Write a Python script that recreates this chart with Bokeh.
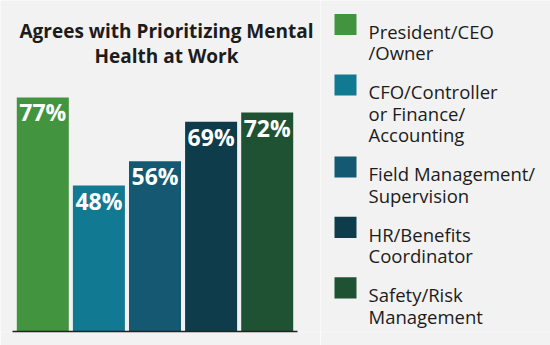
from bokeh.plotting import figure
from bokeh.layouts import row
from bokeh.models import Range1d, ColumnDataSource, FixedTicker
from bokeh.core.properties import value
from bokeh.embed import file_html
from bokeh.resources import INLINE

# ---- data ----
categories = ["President/CEO\n/Owner", "CFO/Controller\nor Finance/\nAccounting",
              "Field Management/\nSupervision", "HR/Benefits\nCoordinator",
              "Safety/Risk\nManagement"]
values = [77, 48, 56, 69, 72]
value_labels = ["77%", "48%", "56%", "69%", "72%"]
colors = ["#43943e", "#117991", "#155871", "#0e3c4b", "#1e5233"]
title_lines = ["Agrees with Prioritizing Mental", "Health at Work"]

BG = "#f2f2f2"
TXT = "#1c1c1c"
FONT = "Open Sans"


def blank(fig):
    fig.background_fill_color = BG
    fig.border_fill_color = BG
    fig.outline_line_color = None
    fig.grid.visible = False


# ---- bar chart (frame spans full panel width) ----
W = 320
frame_h = 331
px_per_unit = 3.04
ppx = 285 / 5.08                      # pixels per category step
x0 = -0.54 - 12 / ppx
x1 = x0 + W / ppx
xs = list(range(len(values)))

p = figure(width=W, height=345, output_backend="svg", toolbar_location=None,
           x_range=Range1d(x0, x1), y_range=Range1d(0, frame_h / px_per_unit),
           y_axis_location=None, min_border_left=0, min_border_right=0,
           min_border_top=0, min_border_bottom=14)
blank(p)

src = ColumnDataSource(dict(x=xs, top=values, color=colors, lab=value_labels))
p.vbar(x="x", top="top", width=0.927, color="color", line_color=None, source=src)
p.text(x="x", y="top", text="lab", source=src, text_align="center",
       text_baseline="alphabetic", y_offset=15, text_color="white",
       text_font=value(FONT), text_font_style="bold", text_font_size="23px")

xa = p.xaxis[0]
xa.ticker = FixedTicker(ticks=[])
xa.bounds = (-0.54, 4.54)
xa.axis_line_color = "#222222"
xa.axis_line_width = 1.5
xa.major_tick_line_color = None
xa.minor_tick_line_color = None
xa.major_label_standoff = 0

# title (two centred lines)
tx_title = x0 + 166 / ppx
p.text(x=[tx_title, tx_title],
       y=[(frame_h - 30) / px_per_unit, (frame_h - 55) / px_per_unit],
       text=title_lines, text_align="center", text_baseline="alphabetic",
       text_color=TXT, text_font=value(FONT), text_font_style="bold",
       text_font_size="19px")

# ---- legend panel ----
lg = figure(width=230, height=345, output_backend="svg", toolbar_location=None,
            x_range=Range1d(0, 230), y_range=Range1d(345, 0),
            x_axis_location=None, y_axis_location=None, min_border=0)
blank(lg)

sq_x, sq_y, sq_c = [], [], []
tx, ty, tt = [], [], []
top = 14
for cat, c in zip(categories, colors):
    lines = cat.split("\n")
    sq_x.append(25); sq_y.append(top + 11); sq_c.append(c)
    for k, ln in enumerate(lines):
        tx.append(48); ty.append(top + 18 + k * 22.5); tt.append(ln)
    top += len(lines) * 22.5 + 18

lg.rect(x=sq_x, y=sq_y, width=22, height=22, color=sq_c, line_color=None)
lg.text(x=tx, y=ty, text=tt, text_align="left", text_baseline="alphabetic",
        text_color=TXT, text_font=value(FONT), text_font_size="18.5px")

layout = row(p, lg, spacing=0)
open("out.html", "w").write(file_html(layout, INLINE))
